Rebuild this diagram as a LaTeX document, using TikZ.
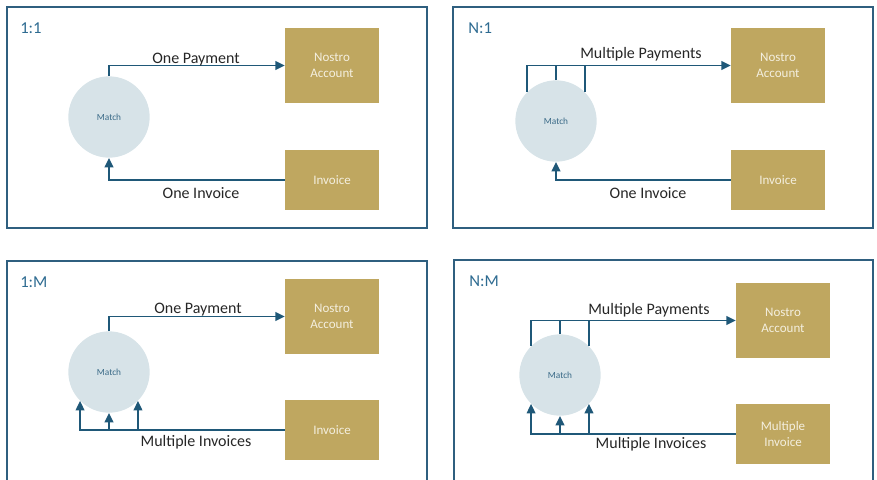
\documentclass[tikz,border=0pt]{standalone}
\usepackage{fontspec}
\setmainfont{Carlito}
\usetikzlibrary{arrows.meta}
\definecolor{frameblue}{HTML}{2F5F7F}
\definecolor{flowblue}{HTML}{1F5878}
\definecolor{titleblue}{HTML}{2E6B91}
\definecolor{gold}{HTML}{BFA760}
\definecolor{goldtext}{HTML}{F4EFDF}
\definecolor{matchfill}{HTML}{D7E3E8}
\definecolor{matchtext}{HTML}{3B6B88}
\definecolor{labeltext}{HTML}{262626}
\tikzset{
  panel/.style={draw=frameblue, line width=0.9pt},
  matchnode/.style={circle, fill=matchfill, minimum size=61pt, inner sep=0pt,
    text=matchtext, font=\fontsize{7}{8}\selectfont},
  nostrobox/.style={rectangle, fill=gold, minimum width=70.5pt, minimum height=56.25pt,
    inner sep=0pt, text=goldtext, align=center, font=\fontsize{9.75}{11.5}\selectfont},
  invbox/.style={nostrobox, minimum height=45pt},
  paneltitle/.style={anchor=west, inner sep=0pt, text=titleblue, font=\fontsize{12.5}{14}\selectfont},
  flowlabel/.style={inner sep=0pt, text=labeltext, font=\fontsize{12}{14}\selectfont},
  flow/.style={draw=flowblue, line width=1.2pt},
  flowarrow/.style={flow, -{Triangle[length=7pt,width=6.5pt]}},
}
\begin{document}
\begin{tikzpicture}[x=0.75pt, y=-0.75pt]
\useasboundingbox (0,0) rectangle (877,479);

% ---------- panel frames ----------
\draw[panel] (7,7) rectangle (427,228);
\draw[panel] (453,7) rectangle (873,228);
\draw[panel] (7,490) -- (7,261) -- (427,261) -- (427,490);
\draw[panel] (454,490) -- (454,260) -- (873,260) -- (873,490);

% ---------- 1:1 ----------
\node[paneltitle] (t1) at (20,28) {1:1};
\node[matchnode] (m1) at (109,117) {Match};
\node[nostrobox] (n1) at (332,65.5) {Nostro\\Account};
\node[invbox] (i1) at (332,180) {Invoice};
\draw[flowarrow] (m1.north) |- (n1.west);
\draw[flowarrow] (i1.west) -| (m1.south);
\node[flowlabel] (l1a) at (196,59.5) {One Payment};
\node[flowlabel] (l1b) at (201,193) {One Invoice};

% ---------- N:1 ----------
\node[paneltitle] (t2) at (468,28) {N:1};
\node[matchnode] (m2) at (556,121) {Match};
\node[nostrobox] (n2) at (778,65.5) {Nostro\\Account};
\node[invbox] (i2) at (778,180) {Invoice};
\draw[flowarrow] (m2.north west) |- (n2.west);
\draw[flow] (m2.north) -- (m2.north |- n2.west);
\draw[flow] (m2.north east) -- (m2.north east |- n2.west);
\draw[flowarrow] (i2.west) -| (m2.south);
\node[flowlabel] (l2a) at (641,54.5) {Multiple Payments};
\node[flowlabel] (l2b) at (648,193) {One Invoice};

% ---------- 1:M ----------
\node[paneltitle] (t3) at (20,282) {1:M};
\node[matchnode] (m3) at (109,372) {Match};
\node[nostrobox] (n3) at (332,316.5) {Nostro\\Account};
\node[invbox] (i3) at (332,430) {Invoice};
\draw[flowarrow] (m3.north) |- (n3.west);
\draw[flowarrow] (i3.west) -| (m3.south west);
\draw[flowarrow] (m3.south |- i3.west) -- (m3.south);
\draw[flowarrow] (m3.south east |- i3.west) -- (m3.south east);
\node[flowlabel] (l3a) at (198,309.5) {One Payment};
\node[flowlabel] (l3b) at (196,442) {Multiple Invoices};

% ---------- N:M ----------
\node[paneltitle] (t4) at (469,281) {N:M};
\node[matchnode] (m4) at (560,375) {Match};
\node[nostrobox] (n4) at (783,320.5) {Nostro\\Account};
\node[invbox] (i4) at (783,434) {Multiple\\Invoice};
\draw[flowarrow] (m4.north west) |- (n4.west);
\draw[flow] (m4.north) -- (m4.north |- n4.west);
\draw[flow] (m4.north east) -- (m4.north east |- n4.west);
\draw[flowarrow] (i4.west) -| (m4.south west);
\draw[flowarrow] (m4.south |- i4.west) -- (m4.south);
\draw[flowarrow] (m4.south east |- i4.west) -- (m4.south east);
\node[flowlabel] (l4a) at (649,310.5) {Multiple Payments};
\node[flowlabel] (l4b) at (651,444) {Multiple Invoices};
\end{tikzpicture}
\end{document}
